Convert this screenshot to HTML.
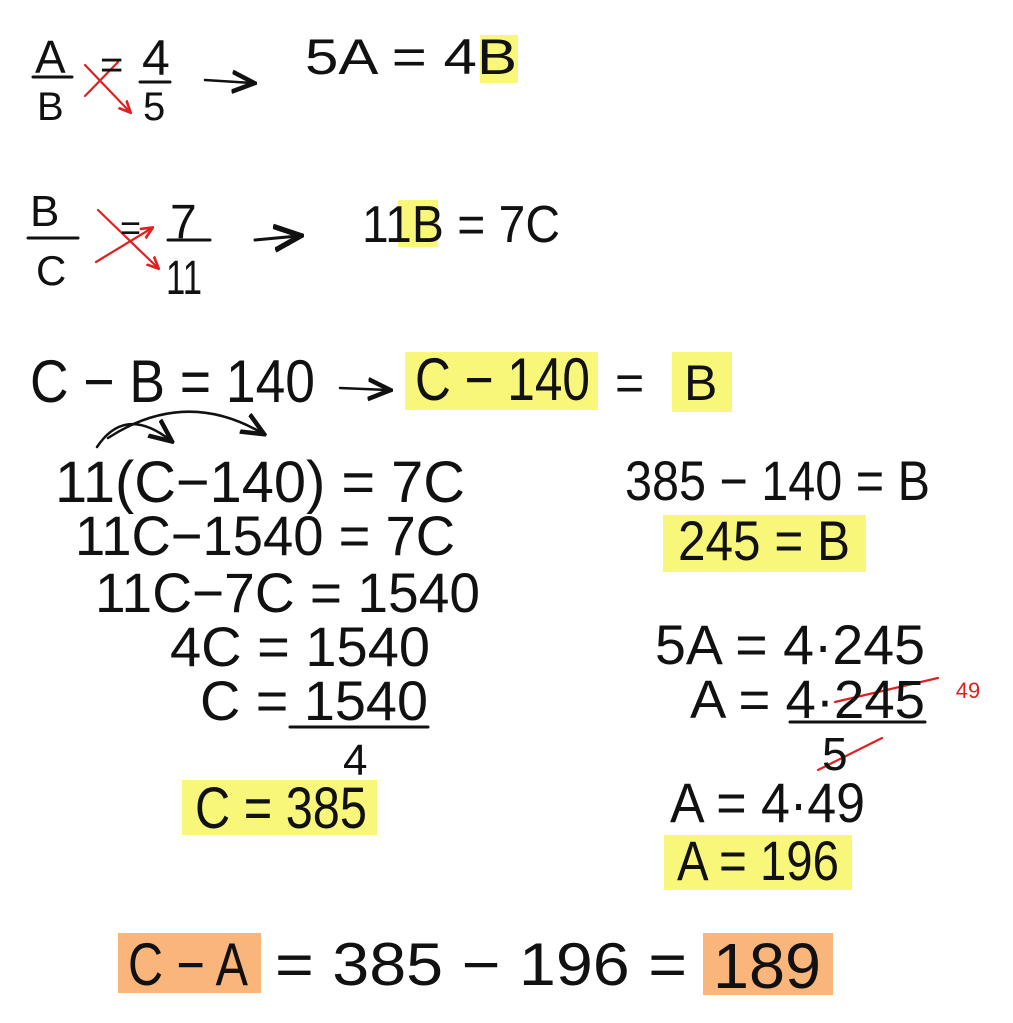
<!DOCTYPE html>
<html><head><meta charset="utf-8"><style>
html,body{margin:0;padding:0;background:#fff}
svg{display:block}
text{font-family:"Liberation Sans",sans-serif;fill:#111}
</style></head><body>
<svg width="1013" height="1023" viewBox="0 0 1013 1023" xmlns="http://www.w3.org/2000/svg">
<defs>
<marker id="ah" markerWidth="10" markerHeight="10" refX="8" refY="5" orient="auto"><path d="M0,1 L9,5 L0,9" fill="none" stroke="#111" stroke-width="1.8"/></marker>
<marker id="ahr" markerWidth="6" markerHeight="6" refX="5" refY="3" orient="auto"><path d="M0,0.5 L5.5,3 L0,5.5" fill="none" stroke="#e02020" stroke-width="1.2"/></marker>
</defs>
<rect x="480" y="35" width="38" height="48" fill="#f8f77a"/>
<rect x="398" y="200" width="40" height="47" fill="#f8f77a"/>
<rect x="405" y="352" width="193" height="58" fill="#f8f77a"/>
<rect x="672" y="352" width="60" height="60" fill="#f8f77a"/>
<rect x="182" y="780" width="195" height="55" fill="#f8f77a"/>
<rect x="663" y="515" width="203" height="57" fill="#f8f77a"/>
<rect x="664" y="835" width="188" height="55" fill="#f8f77a"/>
<rect x="118" y="933" width="143" height="60" fill="#f9b57a"/>
<rect x="703" y="933" width="130" height="62" fill="#f9b57a"/>

<g stroke="#111" stroke-width="3" fill="none" stroke-linecap="round">
<line x1="33" y1="77" x2="72" y2="77"/>
<line x1="140" y1="82" x2="170" y2="82"/>
<line x1="28" y1="238" x2="78" y2="238"/>
<line x1="168" y1="240" x2="210" y2="240"/>
<path d="M205 80 L252 83" marker-end="url(#ah)" stroke-width="2.5"/>
<path d="M255 240 L298 236" marker-end="url(#ah)" stroke-width="3"/>
<path d="M340 388 L388 390" marker-end="url(#ah)" stroke-width="2.5"/>
<path d="M97 447 Q125 405 170 440" marker-end="url(#ah)" stroke-width="2.5"/>
<path d="M108 438 Q185 388 262 433" marker-end="url(#ah)" stroke-width="2.5"/>
<line x1="290" y1="727" x2="428" y2="727"/>
<line x1="790" y1="722" x2="925" y2="722"/>
</g>
<g stroke="#e02020" stroke-width="2.2" fill="none" stroke-linecap="round">
<path d="M85 65 L130 112" marker-end="url(#ahr)"/>
<path d="M85 96 L118 62"/>
<path d="M98 210 L158 268" marker-end="url(#ahr)"/>
<path d="M96 262 L152 228" marker-end="url(#ahr)"/>
<path d="M835 702 L938 678"/>
<path d="M818 770 L882 738"/>
</g>
<text x="968" y="698" font-size="22" style="fill:#e02020" text-anchor="middle">49</text>

<text x="35" y="73" font-size="46">A</text>
<text x="37" y="120" font-size="40">B</text>
<text x="100" y="78" font-size="40">=</text>
<text x="142" y="75" font-size="50">4</text>
<text x="143" y="120" font-size="40">5</text>
<text x="305" y="74" font-size="50" textLength="212" lengthAdjust="spacingAndGlyphs">5A = 4B</text>

<text x="30" y="226" font-size="44">B</text>
<text x="36" y="285" font-size="42">C</text>
<text x="120" y="240" font-size="36">=</text>
<text x="170" y="238" font-size="48">7</text>
<text x="166" y="294" font-size="48" textLength="36" lengthAdjust="spacingAndGlyphs">11</text>
<text x="362" y="242" font-size="52" textLength="198" lengthAdjust="spacingAndGlyphs">11B = 7C</text>

<text x="30" y="402" font-size="60" textLength="285" lengthAdjust="spacingAndGlyphs">C − B = 140</text>
<text x="415" y="400" font-size="60" textLength="175" lengthAdjust="spacingAndGlyphs">C − 140</text>
<text x="615" y="400" font-size="50">=</text>
<text x="684" y="400" font-size="50">B</text>

<text x="55" y="502" font-size="58" textLength="410" lengthAdjust="spacingAndGlyphs">11(C−140) = 7C</text>
<text x="75" y="555" font-size="56" textLength="380" lengthAdjust="spacingAndGlyphs">11C−1540 = 7C</text>
<text x="95" y="612" font-size="56" textLength="385" lengthAdjust="spacingAndGlyphs">11C−7C = 1540</text>
<text x="170" y="666" font-size="56" textLength="260" lengthAdjust="spacingAndGlyphs">4C = 1540</text>
<text x="200" y="720" font-size="56" textLength="228" lengthAdjust="spacingAndGlyphs">C = 1540</text>
<text x="343" y="775" font-size="44">4</text>
<text x="195" y="828" font-size="58" textLength="172" lengthAdjust="spacingAndGlyphs">C = 385</text>

<text x="625" y="500" font-size="56" textLength="305" lengthAdjust="spacingAndGlyphs">385 − 140 = B</text>
<text x="678" y="560" font-size="56" textLength="172" lengthAdjust="spacingAndGlyphs">245 = B</text>
<text x="655" y="664" font-size="56" textLength="270" lengthAdjust="spacingAndGlyphs">5A = 4·245</text>
<text x="690" y="718" font-size="54" textLength="235" lengthAdjust="spacingAndGlyphs">A = 4·245</text>
<text x="822" y="770" font-size="46">5</text>
<text x="670" y="822" font-size="56" textLength="195" lengthAdjust="spacingAndGlyphs">A = 4·49</text>
<text x="677" y="880" font-size="56" textLength="162" lengthAdjust="spacingAndGlyphs">A = 196</text>

<text x="128" y="985" font-size="60" textLength="120" lengthAdjust="spacingAndGlyphs">C − A</text>
<text x="275" y="985" font-size="60" textLength="412" lengthAdjust="spacingAndGlyphs">= 385 − 196 =</text>
<text x="713" y="988" font-size="64" textLength="108" lengthAdjust="spacingAndGlyphs">189</text>
</svg>
</body></html>
